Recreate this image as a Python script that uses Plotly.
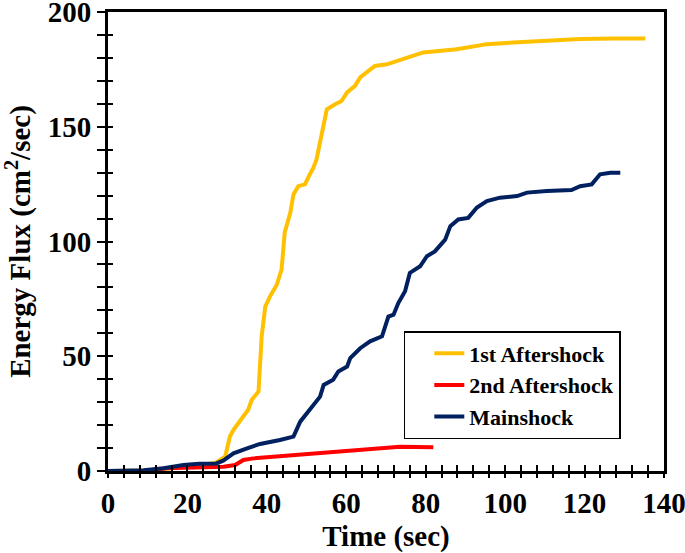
import plotly.graph_objects as go

# ---- data ----
main_t = [0, 5, 9, 14, 19, 23, 27.3, 29, 31.6, 35, 38.3, 43.3, 46.7, 48.4, 50.8, 53.4, 54.3,
          56.7, 58, 60.2, 61, 63.5, 66, 69, 70.6, 71.9, 73.1, 74.8, 76, 78.6, 80.3, 82.3,
          84.9, 86.2, 88.2, 90.7, 92.9, 95.4, 98.7, 103, 105.5, 110.5, 116.7, 118.9,
          121.8, 123.9, 126.5, 129]
main_e = [0, 0, 0.3, 1.2, 2.6, 3.2, 3.3, 4.5, 7.7, 9.9, 11.8, 13.5, 15, 21.5, 26.7, 32.4, 37.5,
          39.8, 43.4, 45.5, 49.2, 53.5, 56.5, 58.7, 67.3, 68.1, 73.2, 78.3, 86.3, 89.2, 93.6, 95.7,
          100.8, 106.7, 109.6, 110.3, 114.8, 117.6, 119.1, 119.8, 121.3, 122, 122.4, 124.1,
          124.9, 129.3, 130, 130]

a1_t = [0, 10, 20, 27, 29.5, 30.7, 31.6, 33.2, 35.3, 36.2, 37.9, 38.7, 39.6, 40.8, 42.5, 43.7,
        44.5, 45.9, 46.7, 47.9, 49.6, 50.8, 51.7, 52.5, 53.4, 54.3, 55.1, 57.2, 58.8, 60.2,
        62.2, 63.5, 65.2, 67.2, 70.2, 73.1, 74.4, 79.4, 87.8, 95.4, 102, 110.5, 118.9,
        127.3, 135.3]
a1_e = [0, 0.2, 2, 3.5, 6.2, 15, 17.9, 21.5, 26.7, 31, 34.6, 58.7, 71.7, 76.1, 81.2, 87.7,
        104, 112.5, 120.5, 124.1, 124.9, 129.2, 132.1, 135.8, 143.1, 151.8, 157.6, 159.8, 161.2, 165,
        167.8, 171.5, 173.6, 176.5, 177.2, 178.7, 179.5, 182.4, 183.8, 186, 186.7, 187.5, 188.2,
        188.5, 188.5]

a2_t = [0, 8.8, 14.8, 23.2, 29.1, 32, 34.1, 36.6, 41.6, 48.4, 56.7, 64.3, 66.8, 73.5, 81.9]
a2_e = [0, 0, 1.2, 1.4, 1.9, 2.6, 4.8, 5.5, 6.2, 6.9, 8.5, 9.2, 9.9, 10.6, 10.4]

series_names = ["1st Aftershock", "2nd Aftershock", "Mainshock"]
series_colors = ["#FFC000", "#FF0000", "#002060"]

x_range = [0, 140]
y_range = [0, 200]

FONT = "Liberation Serif, Times New Roman, serif"

fig = go.Figure()
for name, color, xs, ys in zip(series_names, series_colors,
                               [a1_t, a2_t, main_t], [a1_e, a2_e, main_e]):
    fig.add_trace(go.Scatter(x=xs, y=ys, mode="lines", name=name, legendgroup=name,
                             line=dict(color=color, width=4)))

# invisible trace for the overlay axes (inside half of the crossing ticks)
fig.add_trace(go.Scatter(x=[None], y=[None], xaxis="x2", yaxis="y2",
                         showlegend=False, hoverinfo="skip"))

fig.update_layout(
    width=685, height=553,
    margin=dict(l=108, r=21, t=12, b=82, autoexpand=False),
    paper_bgcolor="white", plot_bgcolor="white",
    font=dict(family=FONT, color="black"),
    showlegend=True,
    legend=dict(x=0.532, y=0.305, xanchor="left", yanchor="top",
                bgcolor="white", bordercolor="black", borderwidth=1.5,
                font=dict(family=FONT, size=22, color="black", weight="bold"),
                tracegroupgap=0, indentation=24),
    xaxis=dict(range=x_range, dtick=20, tick0=0, showgrid=False, zeroline=False,
               automargin=False, ticklabeloverflow="allow",
               showline=True, linewidth=3, linecolor="black", mirror=True,
               ticks="outside", ticklen=4, tickwidth=2, tickcolor="black",
               minor=dict(dtick=4, ticks="outside", ticklen=4, tickwidth=2, tickcolor="black"),
               tickfont=dict(family=FONT, size=29, color="black", weight="bold"),
               title=dict(text="Time (sec)", standoff=14,
                          font=dict(family=FONT, size=29, color="black", weight="bold"))),
    yaxis=dict(range=y_range, dtick=50, tick0=0, showgrid=False, zeroline=False,
               automargin=False, ticklabeloverflow="allow",
               showline=True, linewidth=3, linecolor="black", mirror=True,
               ticks="outside", ticklen=8, tickwidth=2, tickcolor="black",
               minor=dict(dtick=10, ticks="outside", ticklen=8, tickwidth=2, tickcolor="black"),
               tickfont=dict(family=FONT, size=29, color="black", weight="bold"),
               title=dict(text="Energy Flux (cm<sup>2</sup>/sec)", standoff=17,
                          font=dict(family=FONT, size=29, color="black", weight="bold"))),
    xaxis2=dict(range=x_range, overlaying="x", anchor="y2", side="bottom",
                showgrid=False, zeroline=False, showline=False, showticklabels=False,
                automargin=False,
                dtick=4, tick0=0, ticks="inside", ticklen=6, tickwidth=2, tickcolor="black"),
    yaxis2=dict(range=y_range, overlaying="y", anchor="x2", side="left",
                showgrid=False, zeroline=False, showline=False, showticklabels=False,
                automargin=False,
                dtick=10, tick0=0, ticks="inside", ticklen=5, tickwidth=2, tickcolor="black"),
)

fig.write_html("out.html", config={"displayModeBar": False},
               post_script="document.body.style.margin='0';document.body.style.padding='0';")
